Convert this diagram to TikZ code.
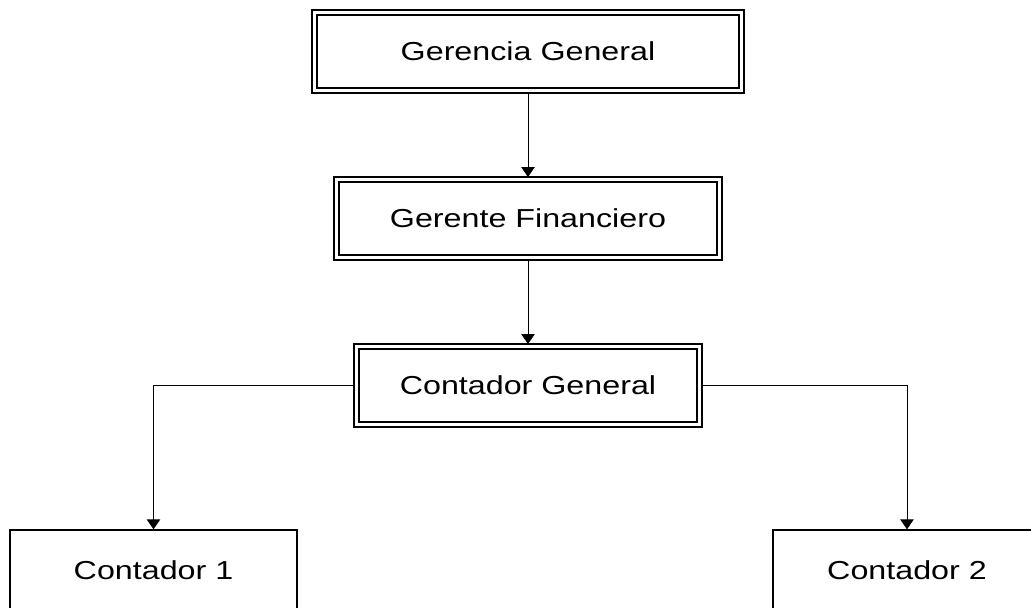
\documentclass[tikz,border=0pt]{standalone}
\usepackage{fontspec}
\setmainfont{Liberation Sans}[FakeStretch=1.24]
\usetikzlibrary{arrows.meta, positioning, calc}

\begin{document}
\begin{tikzpicture}[
        node distance=1.68cm,
        cargo/.style={draw, double, line width=0.75pt, double distance=2pt, outer sep=0.05cm, minimum height=1.56cm, font=\fontsize{14.8}{17}\selectfont},
        puesto/.style={draw, line width=0.8pt, minimum width=5.74cm, minimum height=1.6cm, font=\fontsize{14.8}{17}\selectfont},
        line/.style={line width=0.5pt},
        arr/.style={line, -{Triangle[length=0.2cm, width=0.27cm]}}
    ]
        \useasboundingbox (0,0) rectangle (20.62,-12.14);
        \clip (0,0) rectangle (20.62,-12.14);

        \node[cargo, minimum width=8.54cm] (gg) at (10.56,-1.03) {Gerencia General};
        \node[cargo, minimum width=7.66cm, below=of gg] (gf) {Gerente Financiero};
        \node[cargo, minimum width=6.86cm, below=of gf] (cg) {Contador General};

        \node[puesto] (c1) at (3.07,-11.4) {Contador 1};
        \node[puesto, minimum width=5.36cm] (c2) at (18.14,-11.4) {Contador 2};

        \draw[arr] (gg) -- (gf);
        \draw[arr] (gf) -- (cg);
        \draw[arr] (cg.west) -| (c1.north);
        \draw[arr] (cg.east) -| (c2.north);
    \end{tikzpicture}
\end{document}
